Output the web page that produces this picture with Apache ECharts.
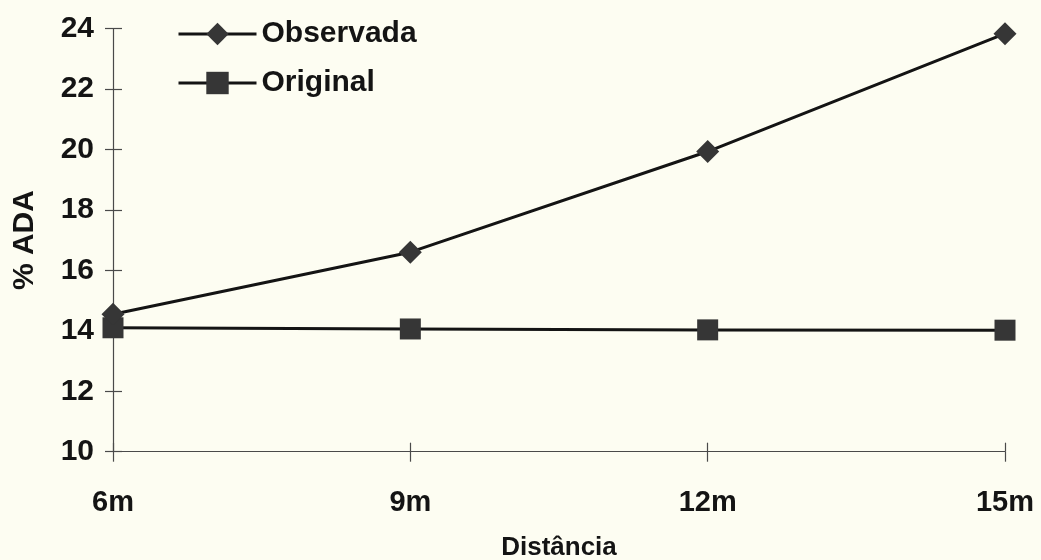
<!DOCTYPE html>
<html>
<head>
<meta charset="utf-8">
<script src="https://cdn.jsdelivr.net/npm/echarts@6/dist/echarts.min.js"></script>
<style>
  html, body { margin: 0; padding: 0; background: #fdfdf2; }
  #chart { width: 1041px; height: 560px; }
</style>
</head>
<body>
<div id="chart"></div>
<script>
// Distance categories and the two measured series
const distances = ['6m', '9m', '12m', '15m'];
const observada = [14.55, 16.6, 19.93, 23.83];
const original = [14.1, 14.06, 14.03, 14.02];

const yMin = 10, yMax = 24, yStep = 2;

const FONT = '"Liberation Sans", Arial, sans-serif';
const INK = '#141414';
const MARK = '#363636';
const AXIS = '#4a4a4a';

const chart = echarts.init(document.getElementById('chart'), null, { renderer: 'canvas' });

const baseX = {
  type: 'category',
  data: distances,
  boundaryGap: false,
  position: 'bottom'
};
const baseY = {
  type: 'value',
  min: yMin,
  max: yMax,
  interval: yStep,
  position: 'left'
};

chart.setOption({
  backgroundColor: '#fdfdf2',
  animation: false,
  grid: {
    left: 113, right: 36, top: 28.5, bottom: 108.3,
    containLabel: false,
    outerBoundsMode: 'none'
  },
  legend: {
    orient: 'vertical',
    left: 172,
    top: 14,
    itemWidth: 78,
    itemHeight: 28,
    itemGap: 19,
    lineStyle: { width: 3, color: INK },
    textStyle: { fontFamily: FONT, fontWeight: 'bold', fontSize: 30, color: INK },
    data: ['Observada', 'Original']
  },
  xAxis: [
    Object.assign({}, baseX, {
      name: 'Distância',
      nameLocation: 'middle',
      nameGap: 83,
      nameTextStyle: { fontFamily: FONT, fontWeight: 'bold', fontSize: 26, color: INK },
      axisLine: { show: true, lineStyle: { color: AXIS, width: 1.2 } },
      axisTick: { show: true, length: 10, lineStyle: { color: AXIS, width: 1.2 } },
      axisLabel: { fontFamily: FONT, fontWeight: 'bold', fontSize: 29, color: INK, margin: 37 },
      splitLine: { show: false }
    }),
    // inward half of the crossing tick marks
    Object.assign({}, baseX, {
      axisLine: { show: false },
      axisTick: { show: true, inside: true, length: 9, lineStyle: { color: AXIS, width: 1.2 } },
      axisLabel: { show: false },
      splitLine: { show: false }
    })
  ],
  yAxis: [
    Object.assign({}, baseY, {
      name: '% ADA',
      nameLocation: 'middle',
      nameGap: 73,
      nameRotate: 90,
      nameTextStyle: { fontFamily: FONT, fontWeight: 'bold', fontSize: 30, color: INK },
      axisLine: { show: true, lineStyle: { color: AXIS, width: 1.2 } },
      axisTick: { show: true, length: 8, lineStyle: { color: AXIS, width: 1.2 } },
      axisLabel: { fontFamily: FONT, fontWeight: 'bold', fontSize: 30, color: INK, margin: 19 },
      splitLine: { show: false }
    }),
    Object.assign({}, baseY, {
      axisLine: { show: false },
      axisTick: { show: true, inside: true, length: 9, lineStyle: { color: AXIS, width: 1.2 } },
      axisLabel: { show: false },
      splitLine: { show: false }
    })
  ],
  series: [
    {
      name: 'Observada',
      type: 'line',
      data: observada,
      symbol: 'diamond',
      symbolSize: 23,
      z: 3,
      lineStyle: { color: INK, width: 3 },
      itemStyle: { color: MARK, borderColor: MARK, borderWidth: 0 }
    },
    {
      name: 'Original',
      type: 'line',
      data: original,
      symbol: 'rect',
      symbolSize: 21,
      z: 2,
      lineStyle: { color: INK, width: 3 },
      itemStyle: { color: MARK, borderColor: MARK, borderWidth: 0 }
    }
  ]
});
</script>
</body>
</html>
